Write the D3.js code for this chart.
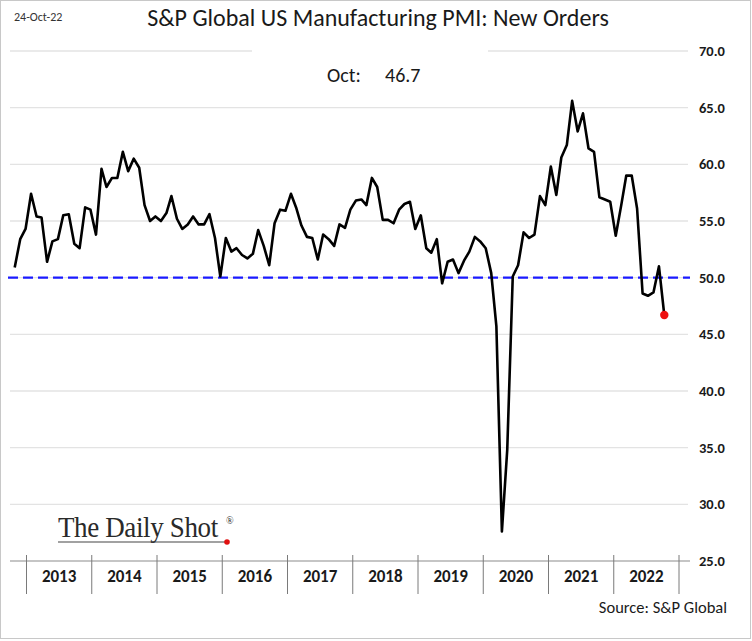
<!DOCTYPE html>
<html>
<head>
<meta charset="utf-8">
<script src="https://cdn.jsdelivr.net/npm/d3@7"></script>
<style>
  html, body { margin: 0; padding: 0; background: #fff; }
  svg { display: block; }
</style>
</head>
<body>
<div id="chart"></div>
<script>
// ---------------- DATA ----------------
const title = "S&P Global US Manufacturing PMI: New Orders";
const dateStamp = "24-Oct-22";
const lastLabel = "Oct:";
const lastValueText = "46.7";
const sourceText = "Source: S&P Global";
const firstMonth = new Date(2012, 9, 1);   // Oct 2012
const lastMonth = new Date(2022, 9, 1);    // Oct 2022
const years = ["2013", "2014", "2015", "2016", "2017", "2018", "2019", "2020", "2021", "2022"];
const yTicks = [25, 30, 35, 40, 45, 50, 55, 60, 65, 70];
const threshold = 50;
// Monthly New Orders index, Oct 2012 .. Oct 2022
const values = [
  50.9, 53.4, 54.3, 57.4, 55.4, 55.3, 51.4, 53.2, 53.4, 55.5, 55.6, 53.0,
  52.6, 56.2, 56.0, 53.8, 59.6, 58.0, 58.8, 58.8, 61.1, 59.4, 60.5, 59.7,
  56.4, 55.0, 55.4, 55.0, 55.7, 57.2, 55.2, 54.3, 54.7, 55.4, 54.7, 54.7,
  55.6, 53.5, 50.1, 53.5, 52.3, 52.6, 52.0, 51.7, 52.1, 54.2, 52.8, 51.1,
  54.8, 56.0, 55.9, 57.4, 56.1, 54.6, 53.6, 53.5, 51.6, 53.8, 53.4, 52.8,
  54.7, 54.4, 56.0, 56.8, 56.9, 56.4, 58.8, 58.0, 55.1, 55.1, 54.8, 56.0,
  56.5, 56.7, 54.3, 55.5, 52.6, 52.2, 53.4, 49.5, 51.4, 51.6, 50.4, 51.5,
  52.3, 53.6, 53.2, 52.6, 50.4, 45.7, 27.6, 34.8, 50.1, 51.1, 54.0, 53.5,
  53.8, 57.2, 56.4, 59.8, 57.3, 60.6, 61.7, 65.6, 62.9, 64.5, 61.4, 61.1,
  57.1, 56.9, 56.7, 53.7, 56.4, 59.0, 59.0, 56.1, 48.6, 48.4, 48.7, 51.0,
  46.7
];
const months = d3.timeMonth.range(firstMonth, d3.timeMonth.offset(lastMonth, 1));
const data = months.map((d, i) => ({ date: d, value: values[i] }));

// ---------------- LAYOUT ----------------
const W = 752, H = 641;
const FONT = "Calibri, Carlito, Lato, 'Open Sans', sans-serif";
const svg = d3.select("#chart").append("svg").attr("width", W).attr("height", H);

svg.append("rect").attr("x", 0.5).attr("y", 0.5).attr("width", W - 2).attr("height", H - 3)
  .attr("fill", "#fff").attr("stroke", "#c8c8c8");

const x = d3.scaleTime().domain([firstMonth, lastMonth]).range([14.7, 664.3]);
const y = d3.scaleLinear().domain([25, 70]).range([561, 51]);
const band = d3.scaleBand().domain(years).range([26.5, 679]).padding(0);

const gridX0 = 10, gridX1 = 688;

// gridlines
svg.append("g").selectAll("line").data(yTicks.filter(t => t !== 25)).join("line")
  .attr("x1", gridX0).attr("x2", gridX1)
  .attr("y1", d => y(d)).attr("y2", d => y(d))
  .attr("stroke", "#e3e3e3").attr("stroke-width", 1.3);

// baseline (axis line at 25)
svg.append("line").attr("x1", gridX0).attr("x2", gridX1 + 2)
  .attr("y1", y(25)).attr("y2", y(25)).attr("stroke", "#8c8c8c").attr("stroke-width", 1.2);

// year separators and labels
const xAxis = d3.axisBottom(band).tickSize(0).tickPadding(0);
const gx = svg.append("g").attr("transform", `translate(0,${y(25)})`);
gx.call(xAxis);
gx.select(".domain").remove();
gx.selectAll(".tick text")
  .attr("y", 15).attr("dy", "0.35em")
  .attr("font-family", FONT)
  .attr("font-weight", "bold").attr("font-size", 17).attr("fill", "#1a1a1a");
const seps = band.domain().map(d => band(d)).concat([band.range()[1]]);
gx.selectAll("line.sep").data(seps).join("line").attr("class", "sep")
  .attr("x1", d => d).attr("x2", d => d).attr("y1", -6).attr("y2", 33)
  .attr("stroke", "#7a7a7a").attr("stroke-width", 1);

// right axis labels
const yAxis = d3.axisRight(y).tickValues(yTicks).tickFormat(d3.format(".1f")).tickSize(0).tickPadding(0);
const gy = svg.append("g").attr("transform", "translate(699,0)").call(yAxis);
gy.select(".domain").remove();
gy.selectAll(".tick text")
  .attr("font-family", FONT)
  .attr("font-weight", "bold").attr("font-size", 14.5).attr("fill", "#1a1a1a");

// label box covering top gridline
svg.append("rect").attr("x", 252).attr("y", 44).attr("width", 236).attr("height", 50).attr("fill", "#fff");
svg.append("text").attr("x", 327).attr("y", 82)
  .attr("font-family", FONT).attr("font-size", 20).attr("fill", "#1a1a1a")
  .text(lastLabel);
svg.append("text").attr("x", 385).attr("y", 82)
  .attr("font-family", FONT).attr("font-size", 20).attr("fill", "#1a1a1a")
  .text(lastValueText);

// threshold dashed line
svg.append("line").attr("x1", 8).attr("x2", 690)
  .attr("y1", y(threshold)).attr("y2", y(threshold))
  .attr("stroke", "#1a1aff").attr("stroke-width", 2.2).attr("stroke-dasharray", "10,5");

// series line
const line = d3.line().x(d => x(d.date)).y(d => y(d.value));
svg.append("path").datum(data).attr("d", line)
  .attr("fill", "none").attr("stroke", "#000").attr("stroke-width", 2.6)
  .attr("stroke-linejoin", "round");

// last point dot
const last = data[data.length - 1];
svg.append("circle").attr("cx", x(last.date)).attr("cy", y(last.value)).attr("r", 4.2).attr("fill", "#ee1111");

// title and date stamp
svg.append("text").attr("x", 378).attr("y", 26).attr("text-anchor", "middle")
  .attr("font-family", FONT).attr("font-size", 24).attr("fill", "#1a1a1a")
  .text(title);
svg.append("text").attr("x", 14).attr("y", 21)
  .attr("font-family", FONT).attr("font-size", 12).attr("fill", "#333")
  .text(dateStamp);

// source
svg.append("text").attr("x", 727).attr("y", 613).attr("text-anchor", "end")
  .attr("font-family", FONT).attr("font-size", 16.5).attr("fill", "#1a1a1a")
  .text(sourceText);

// logo
const logo = svg.append("g").attr("transform", "translate(58,0) scale(0.9,1)");
logo.append("text").attr("x", 0).attr("y", 537)
  .attr("font-family", "'Liberation Serif', 'DejaVu Serif', serif").attr("font-size", 30)
  .attr("letter-spacing", -0.4).attr("fill", "#2a2a2a")
  .text("The Daily Shot");
svg.append("text").attr("x", 226).attr("y", 524)
  .attr("font-family", "'Liberation Serif', serif").attr("font-size", 10).attr("fill", "#2a2a2a").text("®");
svg.append("line").attr("x1", 58).attr("x2", 226).attr("y1", 542).attr("y2", 542)
  .attr("stroke", "#444").attr("stroke-width", 1.2);
svg.append("circle").attr("cx", 227).attr("cy", 542).attr("r", 2.8).attr("fill", "#e01010");
</script>
</body>
</html>
